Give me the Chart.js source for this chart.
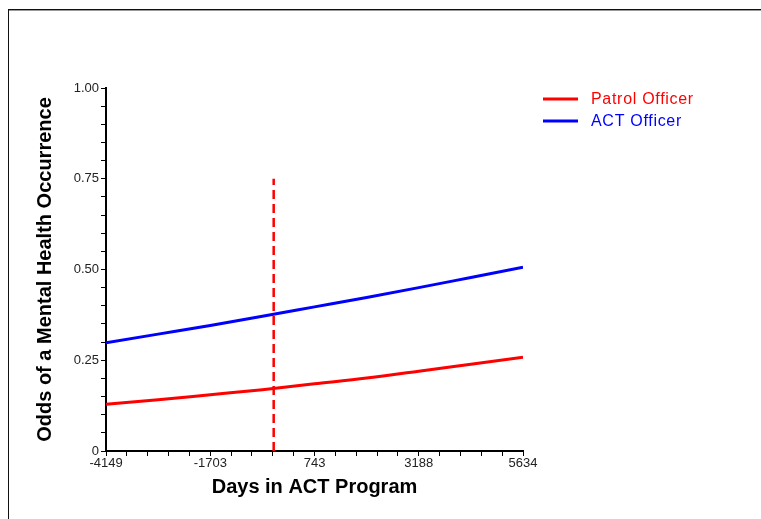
<!DOCTYPE html>
<html>
<head>
<meta charset="utf-8">
<script src="https://cdn.jsdelivr.net/npm/chart.js@4.4.1/dist/chart.umd.min.js"></script>
<style>
  body { margin: 0; background: #fff; }
  #frame {
    position: absolute; left: 8px; top: 9px; right: -10px; bottom: -10px;
    border-top: 1px solid #111; border-left: 1px solid #111;
    box-shadow: inset 0 1px 0 #999;
  }
  #chart { position: absolute; left: 0; top: 0; }
</style>
</head>
<body>
<div id="frame"></div>
<canvas id="chart" width="761" height="519"></canvas>
<script>
// x values (days in ACT program) where the curves were read
const days = [-4149, -2926, -1703, -480, 743, 1966, 3188, 4411, 5634];
const patrolOdds = [0.129, 0.141, 0.155, 0.169, 0.185, 0.201, 0.220, 0.239, 0.258];
const actOdds = [0.298, 0.322, 0.346, 0.371, 0.397, 0.423, 0.450, 0.478, 0.506];

// vertical dashed marker
const markerDay = -215;
const markerOdds = [0, 0.75];

const xTickLabels = [-4149, -1703, 743, 3188, 5634];
const yTickLabels = ['0', '0.25', '0.50', '0.75', '1.00'];

const toPoints = (xs, ys) => xs.map((x, i) => ({ x: x, y: ys[i] }));

// minor ticks: 4 between each pair of labelled ticks
const xTicks = [];
for (let i = 0; i < xTickLabels.length - 1; i++) {
    const step = (xTickLabels[i + 1] - xTickLabels[i]) / 5;
    for (let k = 0; k < 5; k++) xTicks.push(xTickLabels[i] + step * k);
}
xTicks.push(xTickLabels[xTickLabels.length - 1]);
const yTicks = [];
for (let k = 0; k <= 20; k++) yTicks.push(k * 0.05);

const legendPlugin = {
    id: 'sideLegend',
    afterDraw(chart) {
        const ctx = chart.ctx;
        const area = chart.chartArea;
        const x0 = area.right + 20;
        let y = area.top + 11;
        ctx.save();
        ctx.font = '16px "Liberation Sans", Arial, sans-serif';
        ctx.letterSpacing = '0.7px';
        ctx.textBaseline = 'middle';
        chart.data.datasets.forEach(ds => {
            if (ds.hideInLegend) return;
            ctx.strokeStyle = ds.borderColor;
            ctx.lineWidth = 3;
            ctx.beginPath();
            ctx.moveTo(x0, y);
            ctx.lineTo(x0 + 35, y);
            ctx.stroke();
            ctx.fillStyle = ds.borderColor;
            ctx.fillText(ds.label, x0 + 48, y + 1);
            y += 22;
        });
        ctx.restore();
    }
};

const tickFont = { family: '"Liberation Sans", Arial, sans-serif', size: 13 };
const titleFont = { family: '"Liberation Sans", Arial, sans-serif', size: 20, weight: 'bold' };

new Chart(document.getElementById('chart'), {
    type: 'line',
    data: {
        datasets: [
            {
                label: 'Patrol Officer',
                data: toPoints(days, patrolOdds),
                borderColor: '#ff0000',
                borderWidth: 3,
                pointRadius: 0,
                cubicInterpolationMode: 'monotone'
            },
            {
                label: 'ACT Officer',
                data: toPoints(days, actOdds),
                borderColor: '#0000ff',
                borderWidth: 3,
                pointRadius: 0,
                cubicInterpolationMode: 'monotone'
            },
            {
                label: 'marker',
                hideInLegend: true,
                data: toPoints([markerDay, markerDay], markerOdds),
                borderColor: '#ff0000',
                borderWidth: 2.5,
                borderDash: [9, 5],
                pointRadius: 0
            }
        ]
    },
    options: {
        responsive: false,
        animation: false,
        layout: { padding: { top: 88, right: 238, bottom: 0, left: 0 } },
        plugins: { legend: { display: false }, tooltip: { enabled: false } },
        scales: {
            x: {
                type: 'linear',
                min: -4149,
                max: 5634,
                afterBuildTicks: scale => { scale.ticks = xTicks.map(v => ({ value: v })); },
                afterFit: scale => { scale.height = 68; },
                ticks: {
                    autoSkip: false,
                    maxRotation: 0,
                    padding: 0,
                    color: '#222',
                    font: tickFont,
                    callback: v => xTickLabels.includes(v) ? String(v) : ''
                },
                grid: { drawOnChartArea: false, tickLength: 5, tickColor: '#000' },
                border: { color: '#000', width: 2 },
                title: {
                    display: true,
                    text: 'Days in ACT Program',
                    color: '#000',
                    font: titleFont,
                    padding: { top: 0, bottom: 20 }
                }
            },
            y: {
                min: 0,
                max: 1,
                afterBuildTicks: scale => { scale.ticks = yTicks.map(v => ({ value: v })); },
                afterFit: scale => { scale.width = 106; },
                ticks: {
                    autoSkip: false,
                    padding: 2,
                    color: '#222',
                    font: tickFont,
                    callback: v => {
                        const q = Math.round(v * 100);
                        return q % 25 === 0 ? yTickLabels[q / 25] : '';
                    }
                },
                grid: { drawOnChartArea: false, tickLength: 5, tickColor: '#000' },
                border: { color: '#000', width: 2 },
                title: {
                    display: true,
                    text: 'Odds of a Mental Health Occurrence',
                    color: '#000',
                    font: titleFont,
                    padding: { top: 33, bottom: 0 }
                }
            }
        }
    },
    plugins: [legendPlugin]
});
</script>
</body>
</html>
